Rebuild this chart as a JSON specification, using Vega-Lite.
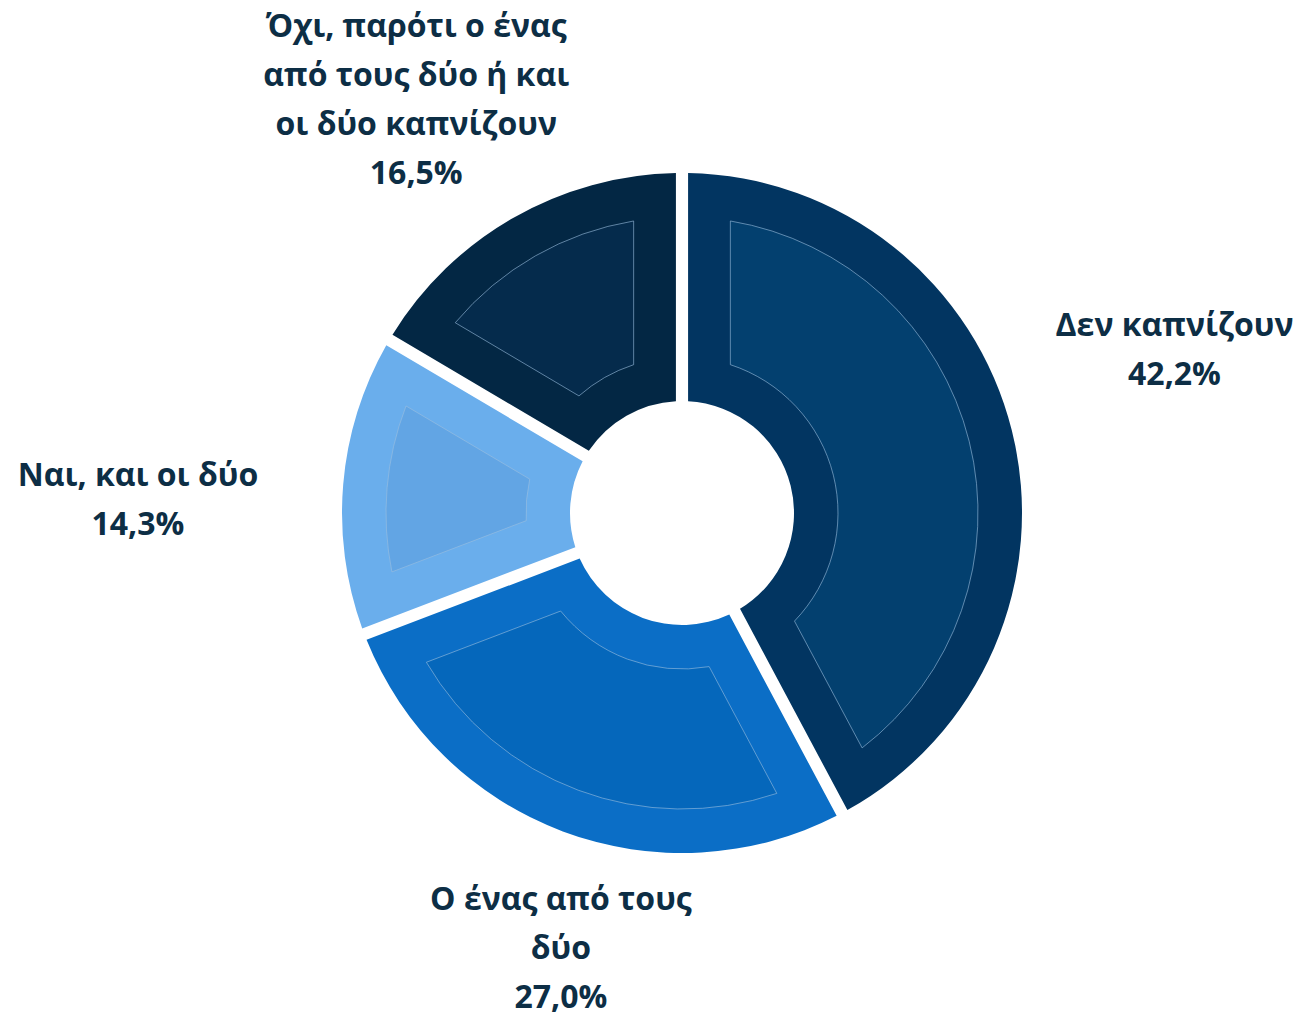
{
  "$schema": "https://vega.github.io/schema/vega-lite/v6.json",
  "autosize": {"type": "none"},
  "width": 1242,
  "height": 1006,
  "padding": {"left": 61, "top": 10, "right": 0, "bottom": 0},
  "background": "white",
  "view": {"stroke": null},
  "data": {
    "values": [
      {"idx": 1, "cat": "Δεν καπνίζουν", "value": 42.2, "label": "Δεν καπνίζουν\n42,2%"},
      {"idx": 2, "cat": "Ο ένας από τους δύο", "value": 27.0, "label": "Ο ένας από τους\nδύο\n27,0%"},
      {"idx": 3, "cat": "Ναι, και οι δύο", "value": 14.3, "label": "Ναι, και οι δύο\n14,3%"},
      {"idx": 4, "cat": "Όχι, παρότι ο ένας από τους δύο ή και οι δύο καπνίζουν", "value": 16.5, "label": "Όχι, παρότι ο ένας\nαπό τους δύο ή και\nοι δύο καπνίζουν\n16,5%"}
    ]
  },
  "encoding": {
    "theta": {"field": "value", "type": "quantitative", "stack": true},
    "order": {"field": "idx", "type": "quantitative"}
  },
  "layer": [
    {
      "mark": {"type": "arc", "radius": 340, "radius2": 112, "padAngle": 0.034},
      "encoding": {
        "color": {
          "field": "cat", "type": "nominal", "legend": null,
          "scale": {
            "domain": ["Δεν καπνίζουν", "Ο ένας από τους δύο", "Ναι, και οι δύο", "Όχι, παρότι ο ένας από τους δύο ή και οι δύο καπνίζουν"],
            "range": ["#023561", "#0b6ec6", "#6aaeec", "#032744"]
          }
        }
      }
    },
    {
      "mark": {"type": "arc", "radius": 296, "radius2": 156, "padAngle": 0.29, "stroke": "#9cbfe0", "strokeWidth": 1, "strokeOpacity": 0.6},
      "encoding": {
        "color": {
          "field": "cat", "type": "nominal", "legend": null,
          "scale": {
            "domain": ["Δεν καπνίζουν", "Ο ένας από τους δύο", "Ναι, και οι δύο", "Όχι, παρότι ο ένας από τους δύο ή και οι δύο καπνίζουν"],
            "range": ["#03406f", "#0567bb", "#62a5e4", "#052b4c"]
          }
        }
      }
    },
    {
      "mark": {"type": "text", "radius": 519, "dx": -11, "dy": -61, "font": "Open Sans", "fontWeight": "bold", "fontSize": 32, "lineHeight": 49, "lineBreak": "\n", "align": "center", "baseline": "middle", "color": "#0d2e45"},
      "encoding": {"text": {"condition": {"test": "datum.idx === 1", "field": "label"}, "value": ""}}
    },
    {
      "mark": {"type": "text", "radius": 451, "dx": 37, "dy": -35, "font": "Open Sans", "fontWeight": "bold", "fontSize": 32, "lineHeight": 49, "lineBreak": "\n", "align": "center", "baseline": "middle", "color": "#0d2e45"},
      "encoding": {"text": {"condition": {"test": "datum.idx === 2", "field": "label"}, "value": ""}}
    },
    {
      "mark": {"type": "text", "radius": 542, "dx": -4, "dy": 9, "font": "Open Sans", "fontWeight": "bold", "fontSize": 32, "lineHeight": 49, "lineBreak": "\n", "align": "center", "baseline": "middle", "color": "#0d2e45"},
      "encoding": {"text": {"condition": {"test": "datum.idx === 3", "field": "label"}, "value": ""}}
    },
    {
      "mark": {"type": "text", "radius": 490, "dx": -23, "dy": -60, "font": "Open Sans", "fontWeight": "bold", "fontSize": 32, "lineHeight": 49, "lineBreak": "\n", "align": "center", "baseline": "middle", "color": "#0d2e45"},
      "encoding": {"text": {"condition": {"test": "datum.idx === 4", "field": "label"}, "value": ""}}
    }
  ],
  "resolve": {"scale": {"color": "independent"}}
}
